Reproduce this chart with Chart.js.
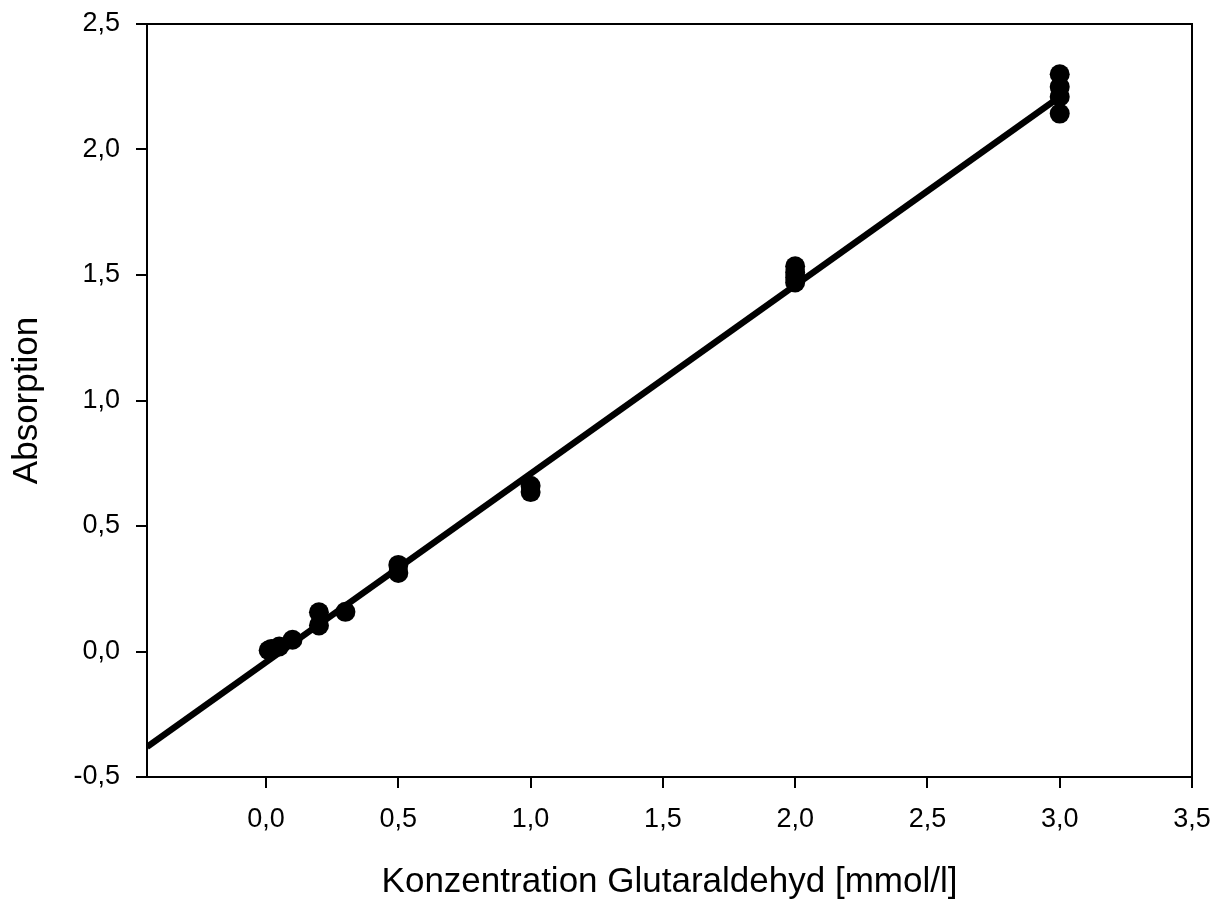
<!DOCTYPE html>
<html>
<head>
<meta charset="utf-8">
<script src="https://cdn.jsdelivr.net/npm/chart.js@4"></script>
<style>
  body { margin: 0; background: #fff; }
  #wrap { width: 1223px; height: 903px; }
</style>
</head>
<body>
<div id="wrap"><canvas id="chart" width="1223" height="903"></canvas></div>
<script>
// Messpunkte
const concX = [0.01, 0.02, 0.05, 0.1, 0.2, 0.2, 0.3, 0.5, 0.5, 1.0, 1.0, 2.0, 2.0, 2.0, 2.0, 3.0, 3.0, 3.0, 3.0];
const absY  = [0.005, 0.01, 0.02, 0.047, 0.156, 0.104, 0.158, 0.345, 0.313, 0.66, 0.635, 1.535, 1.51, 1.49, 1.47, 2.30, 2.25, 2.21, 2.143];

// Regressionsgerade: Endpunkte
const fitX = [-0.45, 3.0];
const fitY = [-0.38, 2.21];

const xTicks = [0, 0.5, 1.0, 1.5, 2.0, 2.5, 3.0, 3.5];
const yTicks = [-0.5, 0, 0.5, 1.0, 1.5, 2.0, 2.5];

const fmt = v => v.toFixed(1).replace(".", ",");
const FONT = "'Liberation Sans', Arial, sans-serif";

const boxPlugin = {
    id: "box",
    afterDraw(chart) {
        const a = chart.chartArea, ctx = chart.ctx;
        ctx.save();
        ctx.strokeStyle = "#000";
        ctx.lineWidth = 2;
        ctx.beginPath();
        ctx.moveTo(a.left, a.top);
        ctx.lineTo(a.right, a.top);
        ctx.lineTo(a.right, a.bottom);
        ctx.stroke();
        ctx.restore();
    }
};

new Chart(document.getElementById("chart"), {
    type: "scatter",
    data: {
        datasets: [{
            data: concX.map((x, i) => ({ x: x, y: absY[i] })),
            backgroundColor: "#000",
            borderWidth: 0,
            pointRadius: 10,
            pointHoverRadius: 10
        }, {
            type: "line",
            data: fitX.map((x, i) => ({ x: x, y: fitY[i] })),
            borderColor: "#000",
            borderWidth: 6.5,
            pointRadius: 0,
            fill: false
        }]
    },
    options: {
        responsive: false,
        animation: false,
        layout: { padding: { left: 0, top: 24, right: 31, bottom: 0 } },
        plugins: { legend: { display: false }, tooltip: { enabled: false } },
        scales: {
            x: {
                type: "linear",
                min: -0.45,
                max: 3.5,
                afterBuildTicks: s => { s.ticks = xTicks.map(v => ({ value: v })); },
                afterFit: s => { s.height = 126; s.paddingLeft = 0; s.paddingRight = 0; },
                grid: { drawOnChartArea: false, drawTicks: true, tickLength: 11, color: "#000", lineWidth: 2 },
                border: { color: "#000", width: 2 },
                ticks: { color: "#000", font: { family: FONT, size: 27 }, padding: 15, maxRotation: 0, callback: v => fmt(v) },
                title: { display: true, text: "Konzentration Glutaraldehyd [mmol/l]", color: "#000",
                         font: { family: FONT, size: 35 }, padding: { top: 0, bottom: 0 } }
            },
            y: {
                min: -0.5,
                max: 2.5,
                afterBuildTicks: s => { s.ticks = yTicks.map(v => ({ value: v })); },
                afterFit: s => { s.width = 147; s.paddingTop = 0; s.paddingBottom = 0; },
                grid: { drawOnChartArea: false, drawTicks: true, tickLength: 11, color: "#000", lineWidth: 2 },
                border: { color: "#000", width: 2 },
                ticks: { color: "#000", font: { family: FONT, size: 27 }, padding: 16, callback: v => fmt(v) },
                title: { display: true, text: "Absorption", color: "#000",
                         font: { family: FONT, size: 35 }, padding: { top: 6, bottom: 0 } }
            }
        }
    },
    plugins: [boxPlugin]
});
</script>
</body>
</html>
